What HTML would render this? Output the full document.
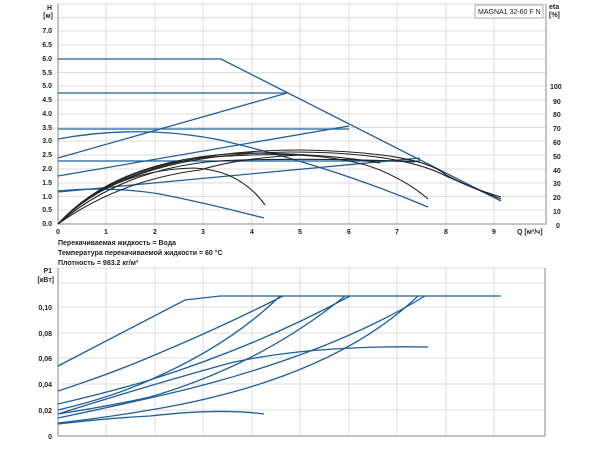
<!DOCTYPE html>
<html><head><meta charset="utf-8"><style>
body{margin:0;background:#fff;}
svg{display:block;font-family:"Liberation Sans",sans-serif;}
.t{font-size:7px;font-weight:bold;fill:#222;}
.g{stroke:#ddd;stroke-width:1;}
.b{fill:none;stroke:#1f5f9a;stroke-width:1.3;}
.k{fill:none;stroke:#222;stroke-width:1.1;}
</style></head><body>
<svg width="600" height="450" viewBox="0 0 600 450">
<g class="g">
<line x1="106" y1="4" x2="106" y2="224"/><line x1="155" y1="4" x2="155" y2="224"/><line x1="203" y1="4" x2="203" y2="224"/><line x1="252" y1="4" x2="252" y2="224"/><line x1="300" y1="4" x2="300" y2="224"/><line x1="349" y1="4" x2="349" y2="224"/><line x1="397" y1="4" x2="397" y2="224"/><line x1="446" y1="4" x2="446" y2="224"/><line x1="494" y1="4" x2="494" y2="224"/>
<line x1="58" y1="4" x2="545" y2="4"/>
<line x1="58" y1="17.5" x2="545" y2="17.5"/><line x1="58" y1="31" x2="545" y2="31"/><line x1="58" y1="45" x2="545" y2="45"/><line x1="58" y1="59" x2="545" y2="59"/><line x1="58" y1="72.5" x2="545" y2="72.5"/><line x1="58" y1="86" x2="545" y2="86"/><line x1="58" y1="100" x2="545" y2="100"/><line x1="58" y1="114" x2="545" y2="114"/><line x1="58" y1="127.5" x2="545" y2="127.5"/><line x1="58" y1="141" x2="545" y2="141"/><line x1="58" y1="155" x2="545" y2="155"/><line x1="58" y1="169" x2="545" y2="169"/><line x1="58" y1="183" x2="545" y2="183"/><line x1="58" y1="196.5" x2="545" y2="196.5"/><line x1="58" y1="210" x2="545" y2="210"/>
</g>
<line x1="58" y1="4" x2="58" y2="224" stroke="#888"/>
<line x1="58" y1="224" x2="545" y2="224" stroke="#888"/>
<line x1="546" y1="4" x2="546" y2="225" stroke="#888"/>
<g class="t" text-anchor="end">
<text x="52" y="10">H</text><text x="53" y="18">[м]</text>
<text x="52" y="33">7.0</text><text x="52" y="47">6.5</text><text x="52" y="61">6.0</text><text x="52" y="75">5.5</text><text x="52" y="88">5.0</text><text x="52" y="102">4.5</text><text x="52" y="116">4.0</text><text x="52" y="130">3.5</text><text x="52" y="143">3.0</text><text x="52" y="157">2.5</text><text x="52" y="171">2.0</text><text x="52" y="185">1.5</text><text x="52" y="199">1.0</text><text x="52" y="212">0.5</text><text x="52" y="226">0.0</text>
</g>
<g class="t" text-anchor="middle">
<text x="58" y="234">0</text><text x="106" y="234">1</text><text x="155" y="234">2</text><text x="203" y="234">3</text><text x="252" y="234">4</text><text x="300" y="234">5</text><text x="349" y="234">6</text><text x="397" y="234">7</text><text x="446" y="234">8</text><text x="494" y="234">9</text>
</g>
<text class="t" x="517" y="234">Q [м³/ч]</text>
<g class="t">
<text x="549" y="9">eta</text><text x="549" y="17">[%]</text>
<text x="550" y="89">100</text><text x="553" y="104">90</text><text x="553" y="117">80</text><text x="553" y="131">70</text><text x="553" y="145">60</text><text x="553" y="159">50</text><text x="553" y="173">40</text><text x="553" y="186">30</text><text x="553" y="200">20</text><text x="553" y="214">10</text><text x="556" y="228">0</text>
</g>
<rect x="475" y="5" width="68" height="13" fill="#fff" stroke="#aaa"/>
<text x="478" y="14" style="font-size:7px;fill:#222">MAGNA1 32-60 F N</text>
<g class="t">
<text x="58" y="245">Перекачиваемая жидкость = Вода</text>
<text x="58" y="255">Температура перекачиваемой жидкости = 60 °C</text>
<text x="58" y="265">Плотность = 983.2 кг/м³</text>
</g>
<polyline class="b" points="58,59 221,59 501,201"/>
<polyline class="b" points="58,93 287,93"/>
<polyline class="b" points="58,158 287,93"/>
<polyline class="b" points="58,129 349,129"/>
<polyline class="b" points="58,176 349,126"/>
<polyline class="b" points="58,161 420,161"/>
<polyline class="b" points="58,192 420,158"/>
<path class="b" d="M58,139 Q140,124 220,140 Q330,166 428,207"/>
<path class="b" d="M58,191 Q110,186 160,194 Q210,204 264,218"/>
<path class="k" d="M58,224 Q110,170 194,168 Q240,170 265,205"/>
<path class="k" d="M58,224 Q120,160 230,156 Q330,150 380,170 Q410,183 428,199"/>
<path class="k" d="M58,224 Q130,150 300,150 Q420,152 446,175 Q470,188 501,197"/>
<path class="k" d="M58,224 Q125,154 290,152 Q400,152 446,176 Q475,189 501,199"/>
<path class="k" d="M58,224 Q120,156 250,153 Q330,154 380,163"/>
<path class="k" d="M58,224 Q130,162 240,160 Q340,158 415,162"/>
<path class="k" d="M58,224 Q120,180 200,170 Q240,158 300,155"/>
<g class="g">
<line x1="106" y1="268" x2="106" y2="436"/><line x1="155" y1="268" x2="155" y2="436"/><line x1="203" y1="268" x2="203" y2="436"/><line x1="252" y1="268" x2="252" y2="436"/><line x1="300" y1="268" x2="300" y2="436"/><line x1="349" y1="268" x2="349" y2="436"/><line x1="397" y1="268" x2="397" y2="436"/><line x1="446" y1="268" x2="446" y2="436"/><line x1="494" y1="268" x2="494" y2="436"/>
<line x1="58" y1="268" x2="545" y2="268"/><line x1="58" y1="283" x2="545" y2="283"/><line x1="58" y1="307" x2="545" y2="307"/><line x1="58" y1="333" x2="545" y2="333"/><line x1="58" y1="358" x2="545" y2="358"/><line x1="58" y1="384" x2="545" y2="384"/><line x1="58" y1="410" x2="545" y2="410"/>
</g>
<line x1="58" y1="268" x2="58" y2="436" stroke="#888"/>
<line x1="58" y1="436" x2="545" y2="436" stroke="#888"/>
<line x1="545" y1="268" x2="545" y2="436" stroke="#888"/>
<g class="t" text-anchor="end">
<text x="52" y="273">P1</text><text x="54" y="282">[кВт]</text>
<text x="52" y="310">0,10</text><text x="52" y="336">0,08</text><text x="52" y="361">0,06</text><text x="52" y="387">0,04</text><text x="52" y="413">0,02</text><text x="52" y="439">0</text>
</g>
<polyline class="b" points="58,366 185,300 220,296 501,296"/>
<path class="b" d="M58,391 Q110,374 150,357 Q220,328 283,296"/>
<path class="b" d="M58,410 Q110,398 150,380 Q230,345 280,296"/>
<path class="b" d="M58,404 Q110,392 150,380 Q260,345 350,296"/>
<path class="b" d="M58,414 Q110,406 150,397 Q260,365 345,296"/>
<path class="b" d="M58,414 Q150,385 230,363 Q310,345 428,347"/>
<path class="b" d="M58,418 Q110,407 150,398 Q320,360 425,296"/>
<path class="b" d="M58,423 Q110,417 150,410 Q330,380 418,296"/>
<path class="b" d="M58,424 Q110,418 150,416 Q220,408 264,414"/>
</svg>
</body></html>
